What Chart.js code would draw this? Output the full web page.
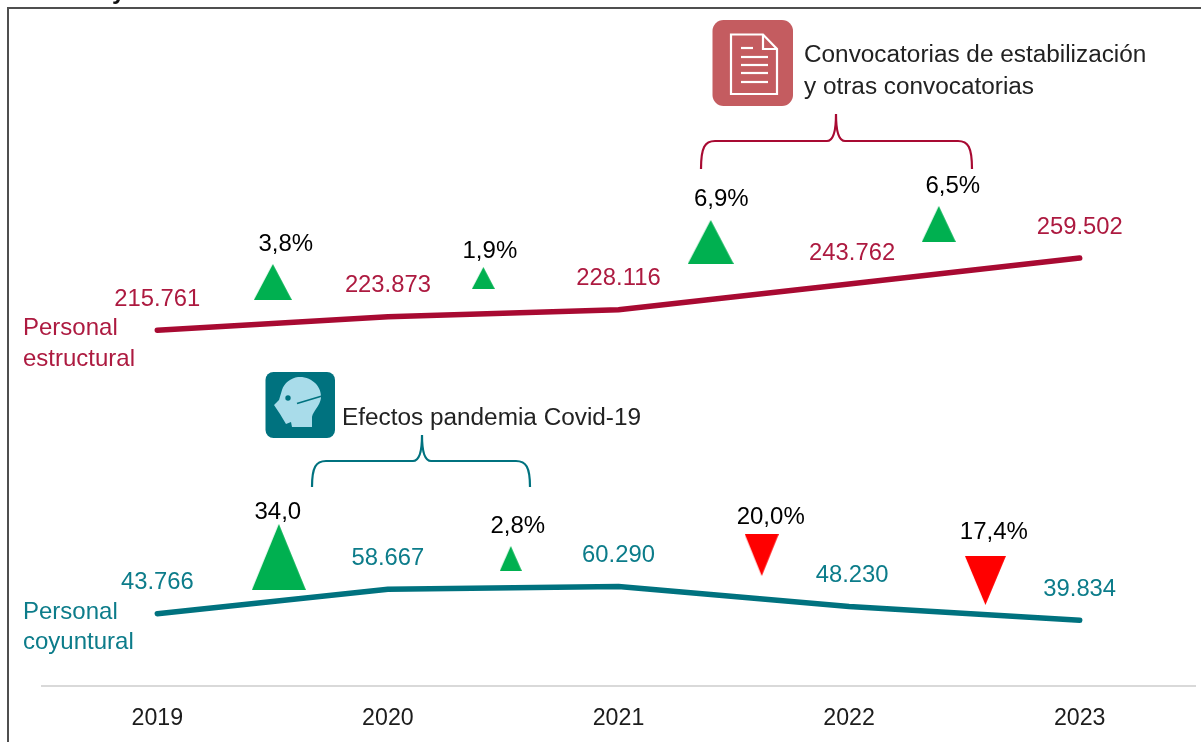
<!DOCTYPE html>
<html><head><meta charset="utf-8">
<style>html,body{margin:0;padding:0;background:#fff}canvas{display:block}</style>
<script src="https://cdn.jsdelivr.net/npm/chart.js@4"></script>
</head><body><canvas id="c" width="1201" height="742"></canvas>
<script>
const years = ['2019','2020','2021','2022','2023'];
const estructural = [215761,223873,228116,243762,259502];
const coyuntural = [43766,58667,60290,48230,39834];
const changeLabels = ['3,8%','1,9%','6,9%','6,5%','34,0','2,8%','20,0%','17,4%'];
const changeX = [0.501,1.414,2.400,3.389,0.527,1.533,2.621,3.591];
const changeY = [245000,247400,269250,280170,78230,77320,79440,63980];
const changeDir = ['up','up','up','up','up','up','down','down'];
const changeW = [38,23,46,34,54,22,34,41];
const changeH = [36,22,44,36,66,25,42,49];
const changeLabelDX = [13,6.5,10.5,14,-1,7,9,8.5];
const changeLabelDY = [-39,-28,-44,-39,-46,-33.5,-39,-49.5];

const CRIMSON='#a80a32', TEAL='#00727f', GREEN='#00b050', RED='#ff0000', INK='#1c1c1c';
const CRIMSON_TEXT='#ad1a40', TEAL_TEXT='#0c7c8a';
const FONT='"Liberation Sans"';

function triangle(w,h,dir){
  const c=document.createElement('canvas');c.width=w;c.height=h;
  const g=c.getContext('2d');g.fillStyle=dir==='up'?GREEN:RED;g.beginPath();
  if(dir==='up'){g.moveTo(w/2,0);g.lineTo(w,h);g.lineTo(0,h);}
  else{g.moveTo(0,0);g.lineTo(w,0);g.lineTo(w/2,h);}
  g.closePath();g.fill();return c;
}
const fmt=v=>String(v).replace(/\B(?=(\d{3})+$)/g,'.');
function text(ctx,s,x,y,color,size,align){
  ctx.fillStyle=color;ctx.font=size+'px '+FONT;ctx.textAlign=align||'left';ctx.textBaseline='middle';ctx.fillText(s,x,y);
}
function rr(ctx,x,y,w,h,r){ctx.beginPath();ctx.roundRect(x,y,w,h,r);}
function brace(ctx,color,x0,x1,xm,yb,yh,yt){
  ctx.strokeStyle=color;ctx.lineWidth=2.2;ctx.beginPath();
  ctx.moveTo(x0,yb);ctx.bezierCurveTo(x0,yh+6,x0+4,yh,x0+14,yh);
  ctx.lineTo(xm-9,yh);ctx.bezierCurveTo(xm-3,yh,xm,yh-8,xm,yt);
  ctx.bezierCurveTo(xm,yh-8,xm+3,yh,xm+9,yh);
  ctx.lineTo(x1-14,yh);ctx.bezierCurveTo(x1-4,yh,x1,yh+6,x1,yb);ctx.stroke();
}
const decor={id:'decor',
  beforeDraw(ch){
    const ctx=ch.ctx;ctx.save();
    ctx.fillStyle='#4f4f4f';ctx.fillRect(7,7,1194,2);ctx.fillRect(7,7,2,735);
    ctx.fillStyle='#111';ctx.font='bold 24px '+FONT;ctx.textAlign='left';ctx.textBaseline='alphabetic';
    ctx.fillText('y',112,-1);
    ctx.restore();
  },
  afterDraw(ch){
    const ctx=ch.ctx;ctx.save();
    [[0,CRIMSON_TEXT],[1,TEAL_TEXT]].forEach(([d,col])=>{
      ch.getDatasetMeta(d).data.forEach((p,i)=>{
        const dx=i===3?3:0;
        text(ctx,fmt(ch.data.datasets[d].data[i]),p.x+dx,p.y-31,col,23.8,'center');
      });
    });
    ch.getDatasetMeta(2).data.forEach((p,i)=>{
      text(ctx,changeLabels[i],p.x+changeLabelDX[i],p.y+changeLabelDY[i]+1,'#000',24,'center');
    });
    text(ctx,'Personal',23,328,CRIMSON_TEXT,24);text(ctx,'estructural',23,359,CRIMSON_TEXT,24);
    text(ctx,'Personal',23,612,TEAL_TEXT,24);text(ctx,'coyuntural',23,642,TEAL_TEXT,24);
    brace(ctx,CRIMSON,701,972,836,169,141,114);
    brace(ctx,TEAL,312,530,422,487,461,435);
    ctx.fillStyle='#c45c60';rr(ctx,712.5,20,80.5,86,11);ctx.fill();
    ctx.strokeStyle='#fff';ctx.lineWidth=2.2;ctx.beginPath();
    ctx.moveTo(731,34.5);ctx.lineTo(763,34.5);ctx.lineTo(777,49);ctx.lineTo(777,94);ctx.lineTo(731,94);ctx.closePath();
    ctx.moveTo(763,34.5);ctx.lineTo(763,49);ctx.lineTo(777,49);ctx.stroke();
    [[741,753,48],[741,768,57],[741,768,65],[741,768,73],[741,768,82]].forEach(([a,b,y])=>{
      ctx.beginPath();ctx.moveTo(a,y);ctx.lineTo(b,y);ctx.stroke();
    });
    text(ctx,'Convocatorias de estabilización',804,55,'#222',24.35);
    text(ctx,'y otras convocatorias',804,87,'#222',24.35);
    ctx.fillStyle='#00727f';rr(ctx,265.5,372,69.5,66,8);ctx.fill();
    ctx.fillStyle='#a9dcea';ctx.beginPath();
    ctx.moveTo(298,377);ctx.bezierCurveTo(312,376,322,387,321,398);
    ctx.bezierCurveTo(320,406,313,411,312,417);ctx.lineTo(312,427);ctx.lineTo(292,427);ctx.lineTo(291,422);
    ctx.lineTo(286,424);ctx.lineTo(280,414);ctx.lineTo(274,405);ctx.lineTo(279,400);ctx.lineTo(282,390);
    ctx.bezierCurveTo(284,383,291,378,298,377);ctx.closePath();ctx.fill();
    ctx.fillStyle='#00727f';ctx.beginPath();ctx.arc(288,398,2.7,0,7);ctx.fill();
    ctx.strokeStyle='#00727f';ctx.lineWidth=1.8;ctx.beginPath();ctx.moveTo(297,403.5);ctx.lineTo(322,396);ctx.stroke();
    text(ctx,'Efectos pandemia Covid-19',342,418,'#222',24.35);
    ctx.restore();
  }
};
const zeroPad=s=>{s.paddingLeft=s.paddingRight=s.paddingTop=s.paddingBottom=0;};
new Chart(document.getElementById('c'),{
  data:{labels:years,datasets:[
    {type:'line',data:estructural,borderColor:CRIMSON,borderWidth:5.5,borderCapStyle:'round',borderJoinStyle:'round',pointRadius:0,tension:0},
    {type:'line',data:coyuntural,borderColor:TEAL,borderWidth:5.5,borderCapStyle:'round',borderJoinStyle:'round',pointRadius:0,tension:0},
    {type:'scatter',xAxisID:'xt',data:changeX.map((x,i)=>({x,y:changeY[i]})),showLine:false,
     pointStyle:changeDir.map((d,i)=>triangle(changeW[i],changeH[i],d)),pointRadius:10}
  ]},
  options:{responsive:false,animation:false,events:[],
    layout:{padding:{left:42,right:6,top:0,bottom:0},autoPadding:false},
    plugins:{legend:{display:false},tooltip:{enabled:false},title:{display:false}},
    scales:{
      x:{type:'category',offset:true,grid:{display:false,drawTicks:false},border:{color:'#d9d9d9',width:2},
         ticks:{color:INK,font:{family:FONT,size:23.2},padding:19,maxRotation:0},
         afterFit(s){s.height=56;zeroPad(s);}},
      xt:{type:'linear',display:false,min:-0.5,max:4.5,afterFit:zeroPad},
      y:{display:false,min:0,max:416000,afterFit:zeroPad}
    }
  },
  plugins:[decor]
});
</script></body></html>
